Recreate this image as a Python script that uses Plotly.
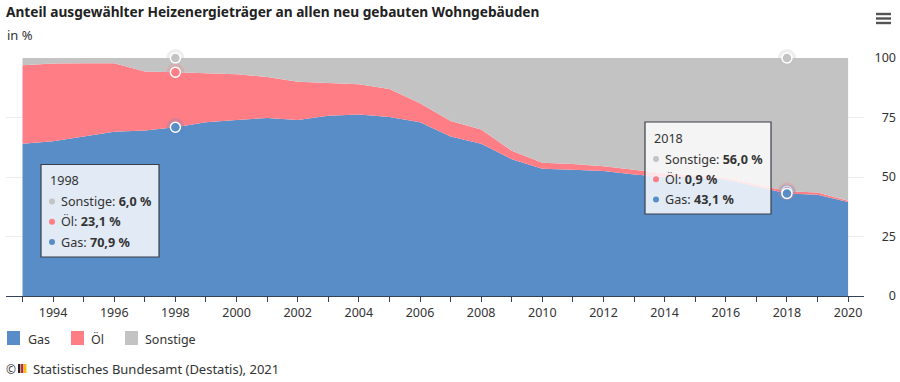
import plotly.graph_objects as go

years = list(range(1993, 2021))
gas = [64, 65, 67, 69, 69.5, 70.9, 73, 74, 74.8, 74, 75.7, 76.3, 75.2, 73, 67, 64, 57.5, 53.5, 53, 52.5, 51, 50, 50, 49, 46, 43.1, 42.5, 39.5]
oel = [33, 32.7, 30.8, 28.8, 24.8, 23.1, 20.6, 19.2, 17.2, 16, 13.8, 12.7, 11.8, 8, 6.5, 6, 3.5, 2.5, 2.5, 2, 2, 1.5, 0.7, 0.7, 1, 0.9, 1, 0.5]
sonstige = [3, 2.3, 2.2, 2.2, 5.7, 6.0, 6.4, 6.8, 8, 10, 10.5, 11, 13, 19, 26.5, 30, 39, 44, 44.5, 45.5, 47, 48.5, 49.3, 50.3, 53, 56.0, 56.5, 60]
series_names = ["Gas", "Öl", "Sonstige"]
series_colors = ["#588dc8", "#ff7d85", "#c3c3c3"]
y_ticks = [0, 25, 50, 75, 100]
x_labels = [str(y) if y % 2 == 0 else "" for y in years]
tip_years = [1998, 2018]

FONT = "Noto Sans"
W, H = 900, 382
TXT = "#333333"
px = lambda x: x / W
py = lambda y: 1 - y / H

fig = go.Figure()
all_series = [gas, oel, sonstige]
for name, vals, col in zip(series_names, all_series, series_colors):
    fig.add_trace(go.Scatter(x=years, y=vals, name=name, mode="none", stackgroup="one",
                             fillcolor=col, showlegend=False, hoverinfo="skip"))

# Hover markers at the tooltip years (drawn top series first so Gas ends up on top)
for ty in tip_years:
    i = years.index(ty)
    levels = [gas[i], gas[i] + oel[i], gas[i] + oel[i] + sonstige[i]]
    for lvl, col in reversed(list(zip(levels, series_colors))):
        fig.add_trace(go.Scatter(x=[ty], y=[lvl], mode="markers", showlegend=False, hoverinfo="skip",
                                 cliponaxis=False,
                                 marker=dict(size=18, color=col, opacity=0.28, line=dict(width=0))))
        fig.add_trace(go.Scatter(x=[ty], y=[lvl], mode="markers", showlegend=False, hoverinfo="skip",
                                 cliponaxis=False,
                                 marker=dict(size=10, color=col, line=dict(width=1.5, color="#ffffff"))))

shapes, ann = [], []


def text(x, y, s, size=12.6, anchor="left", color=TXT):
    ann.append(dict(x=px(x), y=py(y), xref="paper", yref="paper", text=s, showarrow=False,
                    xanchor=anchor, yanchor="middle", borderpad=0,
                    font=dict(family=FONT, size=size, color=color)))


def rect(x0, y0, x1, y1, fill, line=None, lw=1):
    shapes.append(dict(type="rect", xref="paper", yref="paper", x0=px(x0), x1=px(x1), y0=py(y0), y1=py(y1),
                       fillcolor=fill, line=dict(width=lw if line else 0, color=line or fill), layer="above"))


def tooltip(x0, y0, x1, y1, year):
    i = years.index(year)
    rect(x0, y0, x1, y1, "rgba(255,255,255,0.82)", "#3a3f47", 1.2)
    text(x0 + 8, y0 + 16, str(year))
    rows = [("Sonstige", sonstige, 2), ("Öl", oel, 1), ("Gas", gas, 0)]
    for k, (nm, vals, c) in enumerate(rows):
        yy = y0 + 37 + k * 20.3
        bx = x0 + 11
        shapes.append(dict(type="circle", xref="paper", yref="paper", x0=px(bx - 3), x1=px(bx + 3),
                           y0=py(yy + 3), y1=py(yy - 3), fillcolor=series_colors[c],
                           line=dict(width=0), layer="above"))
        val = f"{vals[i]:.1f}".replace(".", ",")
        text(x0 + 19, yy, f"{nm}: <b>{val} %</b>")


tooltip(41, 164.5, 159, 257, 1998)
tooltip(645, 122, 771, 214, 2018)

# Legend
for nm, col, sx, tx in zip(series_names, series_colors, [7, 71, 125], [27, 90, 144]):
    rect(sx, 331, sx + 13, 345, col)
    text(tx, 339, nm, size=12.5)

# Menu icon
for yy in [14, 18.5, 23]:
    rect(876, yy - 1.2, 891, yy + 1.2, "#555555")

# Source
text(5, 369, "©", size=12)
for fx, fc in zip([18, 21, 24], ["#222222", "#d8232a", "#f2c200"]):
    rect(fx, 364, fx + 2.4, 373, fc)
text(32, 369, "Statistisches Bundesamt (Destatis), 2021", size=13)
text(6, 35, "in %", size=13)

fig.update_layout(
    width=W, height=H, autosize=False,
    margin=dict(l=0, r=0, t=0, b=0),
    paper_bgcolor="#ffffff", plot_bgcolor="#ffffff",
    hovermode=False,
    title=dict(text="<b>Anteil ausgewählter Heizenergieträger an allen neu gebauten Wohngebäuden</b>",
               x=px(6), xanchor="left", xref="paper", y=py(12), yanchor="middle", automargin=False,
               font=dict(family=FONT, size=13.7, color="#222222")),
    shapes=shapes, annotations=ann,
    xaxis=dict(domain=[px(6), px(864)], range=[1992.46, 2020.52], tickmode="array", automargin=False,
               tickvals=years, ticktext=x_labels, showgrid=False, zeroline=False,
               showline=True, linecolor="#33415a", linewidth=1, ticks="outside", ticklen=5,
               tickcolor="#33415a", tickfont=dict(family=FONT, size=12.5, color=TXT), tickangle=0),
    yaxis=dict(domain=[py(296), py(58)], range=[0, 100], tickmode="array", tickvals=y_ticks, automargin=False,
               anchor="free", position=px(896), side="left", showline=False, ticks="",
               showgrid=True, gridcolor="#ececec", gridwidth=1, zeroline=False,
               tickfont=dict(family=FONT, size=12.5, color=TXT)),
)

fig.write_html("out.html", config={"displayModeBar": False},
               post_script="document.body.style.margin='0';document.documentElement.style.overflow='hidden';")
